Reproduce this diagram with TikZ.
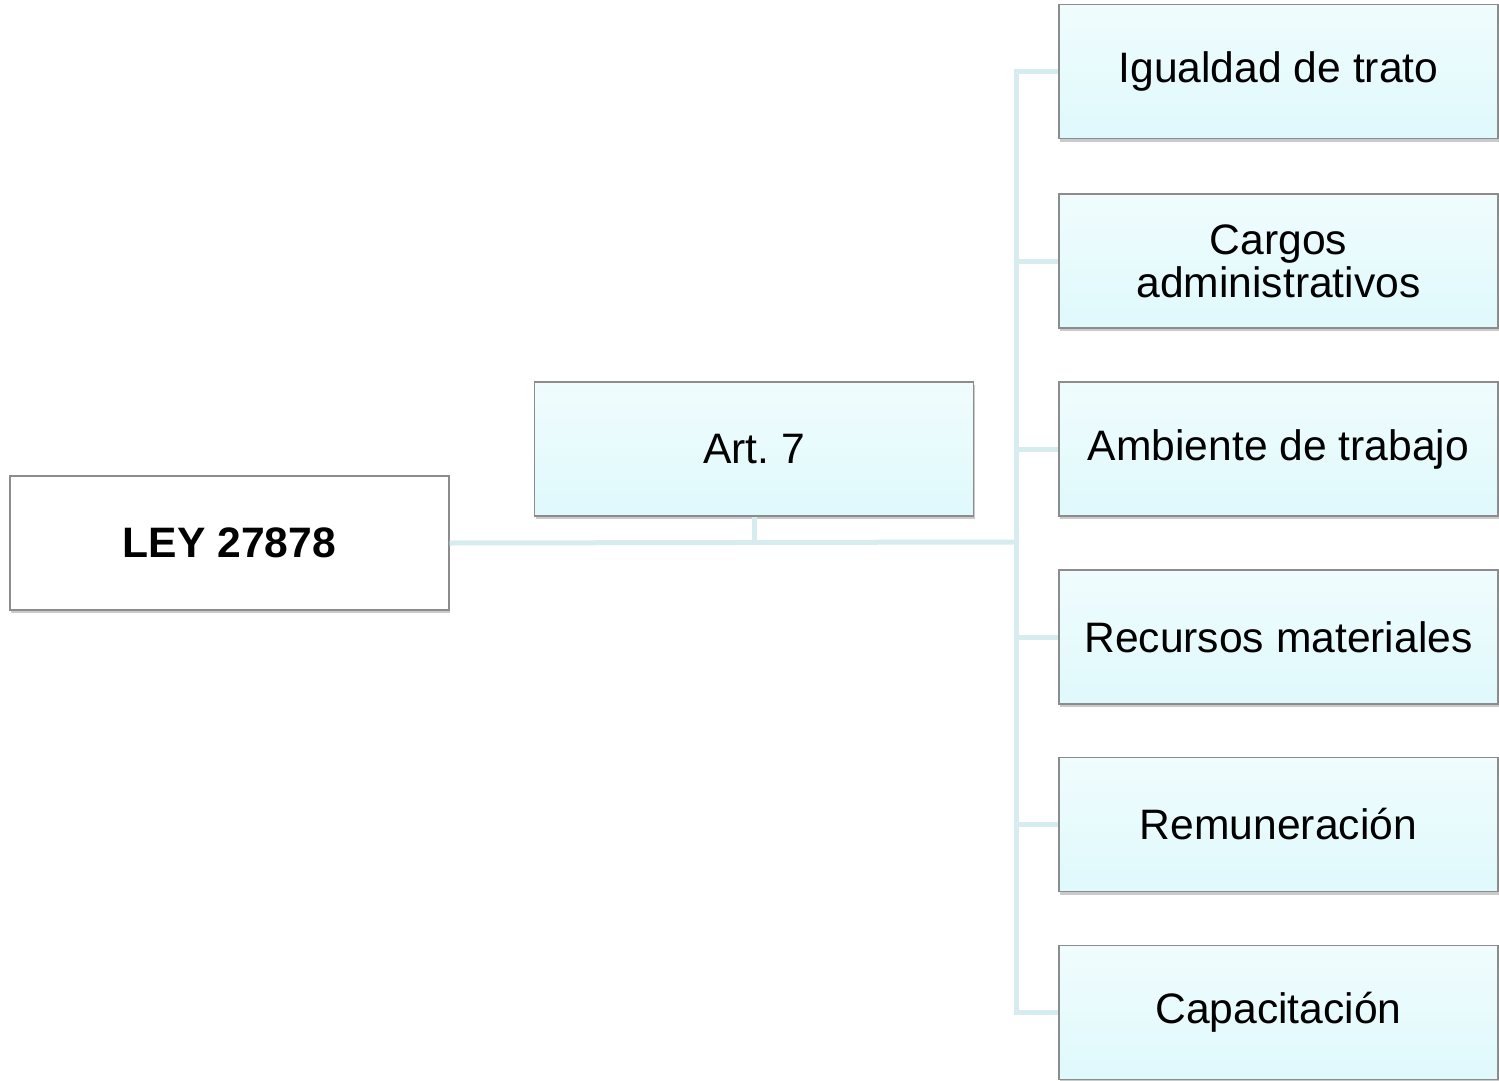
\documentclass[tikz,border=0pt]{standalone}
\usepackage{fontspec}
\setmainfont{Liberation Sans}
\usetikzlibrary{shadows}
\definecolor{conncol}{HTML}{D6ECEE}
\definecolor{boxtop}{HTML}{F0FCFD}
\definecolor{boxbot}{HTML}{DFF9FC}
\definecolor{boxline}{HTML}{8C8C8C}
\tikzset{
  basebox/.style={draw=boxline, line width=1.2pt, minimum width=439pt, minimum height=134pt,
    inner sep=0pt, align=center, font=\fontsize{42.6}{43}\selectfont,
    drop shadow={shadow xshift=1pt, shadow yshift=-3pt, opacity=0.35, fill=black!60}},
  whitebox/.style={basebox, fill=white},
  cyanbox/.style={basebox, top color=boxtop, bottom color=boxbot},
  conn/.style={draw=conncol, line width=5pt}
}
\frenchspacing
\begin{document}
\begin{tikzpicture}[x=1pt,y=-1pt]
\useasboundingbox (0,0) rectangle (1499,1081);
\node[whitebox, font=\fontsize{42.6}{43}\selectfont\bfseries] (ley) at (229.5,543) {LEY 27878};
\node[cyanbox] (art) at (754,449) {Art.\ 7};
\node[cyanbox] (r1) at (1278.5,71.5) {Igualdad de trato};
\node[cyanbox] (r2) at (1278.5,261) {Cargos\\administrativos};
\node[cyanbox] (r3) at (1278.5,449) {Ambiente de trabajo};
\node[cyanbox] (r4) at (1278.5,637) {Recursos materiales};
\node[cyanbox] (r5) at (1278.5,824.5) {Remuneración};
\node[cyanbox] (r6) at (1278.5,1012.5) {Capacitación};
\coordinate (j) at (1016,542);
\draw[conn] (ley.east) -- (j);
\draw[conn] (art.south) -- (art.south |- j);
\draw[conn, line cap=rect] (j |- r1.west) -- (j |- r6.west);
\foreach \r in {r1,r2,r3,r4,r5,r6}{
  \draw[conn] (j |- \r.west) -- (\r.west);
}
\end{tikzpicture}
\end{document}
